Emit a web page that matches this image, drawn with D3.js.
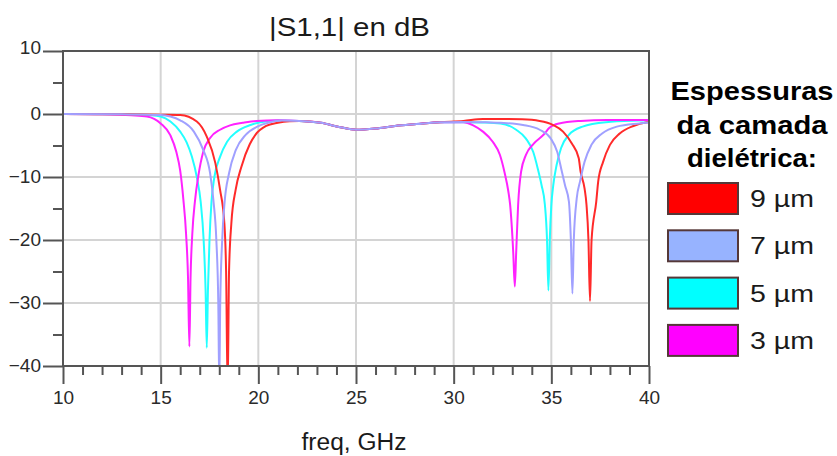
<!DOCTYPE html>
<html><head><meta charset="utf-8">
<script src="https://cdn.jsdelivr.net/npm/d3@7"></script>
<style>body{margin:0;background:#fff}svg{display:block}text{font-family:"Liberation Sans",Arial,sans-serif}</style>
</head><body><svg id="c" width="837" height="456"></svg>
<script>
// ---- data ----
const chartTitle = "|S1,1| en dB";
const xLabel = "freq, GHz";
const legendTitle = ["Espessuras", "da camada", "dielétrica:"];
const seriesNames = ["9 µm", "7 µm", "5 µm", "3 µm"];
const lineColors = ["#ff2a2a", "#a0a0ff", "#22ffff", "#ff22ff"];
const swatchColors = ["#ff0000", "#97b3ff", "#00ffff", "#ff00ff"];
const xTicks = [10, 15, 20, 25, 30, 35, 40];
const yTicks = [10, 0, -10, -20, -30, -40];

// 9 µm
const freq9 = [10, 13, 15, 16, 16.85, 17.36, 17.8, 18.04, 18.26, 18.35, 18.43, 18.5, 18.62, 18.84, 19.13, 19.56, 19.85, 20.4, 21, 21.6, 22.1, 23.2, 24.2, 25, 26, 27, 28.1, 29.3, 30.5, 31.5, 32.5, 33.5, 34.4, 35.1, 35.6, 36.05, 36.4, 36.5, 36.7, 36.8, 36.9, 36.98, 37.06, 37.3, 37.4, 37.65, 38, 38.5, 39.2, 39.9, 40];
const db9 = [0, -0.05, -0.1, -0.15, -1.2, -3.6, -7.8, -12, -17.3, -25, -44, -25, -17.3, -12, -8.4, -4.8, -3.3, -1.9, -1.4, -1.15, -1.1, -1.4, -2.1, -2.5, -2.3, -1.9, -1.6, -1.3, -1.1, -0.8, -0.8, -0.85, -1.1, -1.75, -2.8, -4.7, -7, -9.2, -11.8, -14.4, -20, -29.7, -20, -13.9, -10.7, -7.6, -4.9, -3.1, -1.9, -1.3, -1.25];
// 7 µm
const freq7 = [10, 13, 15, 15.5, 16, 16.7, 17.18, 17.53, 17.7, 17.85, 17.95, 18, 18.05, 18.15, 18.27, 18.5, 18.85, 19.35, 19.95, 20.5, 21.2, 22.1, 23.2, 24.2, 25, 26, 27, 28.1, 29.3, 30.5, 31.5, 32.4, 33.55, 34.4, 34.97, 35.3, 35.5, 35.7, 35.9, 36, 36.08, 36.15, 36.3, 36.47, 36.7, 37.05, 37.6, 38.35, 39.5, 40];
const db7 = [0, -0.05, -0.15, -0.4, -1, -2.8, -5.7, -9.4, -13.7, -20, -30, -43, -30, -20, -14.1, -9.4, -5.7, -3.3, -2, -1.4, -1.05, -1.1, -1.4, -2.1, -2.5, -2.3, -1.9, -1.6, -1.3, -1.25, -1.3, -1.4, -1.75, -2.5, -3.9, -6, -8.6, -11.3, -13.9, -20, -28.5, -20, -13.4, -10.7, -7.6, -4.9, -3.1, -2, -1.5, -1.35];
// 5 µm
const freq5 = [10, 13, 14.5, 15, 15.5, 16, 16.33, 16.6, 16.85, 17.05, 17.2, 17.3, 17.36, 17.42, 17.5, 17.6, 17.75, 18.04, 18.4, 18.9, 19.6, 20.1, 21, 22.1, 23.2, 24.2, 25, 26, 27, 28.1, 29.3, 30.5, 31.5, 32.4, 33.2, 33.7, 34.07, 34.3, 34.5, 34.67, 34.78, 34.85, 34.92, 35, 35.1, 35.27, 35.5, 35.9, 36.6, 37.8, 39.5, 40];
const db5 = [0, -0.05, -0.2, -0.4, -1.2, -2.8, -4.5, -6.8, -10, -14, -20, -28, -37.1, -28, -20, -14, -10, -6.8, -4.4, -2.8, -1.75, -1.3, -1.05, -1.1, -1.4, -2.1, -2.5, -2.3, -1.9, -1.6, -1.3, -1.3, -1.35, -1.5, -2.5, -3.9, -6, -8.6, -11.3, -14.4, -20, -28, -20, -14.5, -11.3, -8.1, -5.4, -3.3, -2, -1.3, -1.05, -1];
// 3 µm
const freq3 = [10, 12, 13.5, 14.3, 15, 15.5, 15.8, 16, 16.16, 16.3, 16.4, 16.47, 16.53, 16.62, 16.76, 16.93, 17.18, 17.53, 18.04, 18.55, 19.2, 19.9, 21, 22.1, 23.2, 24.2, 25, 26, 27, 28.1, 29.3, 30.5, 31, 31.5, 32, 32.37, 32.6, 32.8, 32.89, 33.05, 33.13, 33.2, 33.3, 33.45, 33.7, 34.1, 34.6, 34.9, 35.4, 36.5, 37.85, 40];
const db3 = [0, -0.05, -0.2, -0.4, -1.5, -3.4, -6, -9, -13.5, -19, -26, -36.9, -26, -19, -13.7, -9.8, -6, -3.8, -2.5, -1.8, -1.4, -1.1, -1, -1.1, -1.4, -2.1, -2.5, -2.3, -1.9, -1.6, -1.3, -1.3, -1.8, -2.8, -4.4, -6.5, -9.2, -12.3, -14.4, -22, -27.4, -22, -14.4, -9.2, -6.5, -4.7, -3.3, -2.2, -1.5, -1.1, -0.95, -0.95];

const seriesFreq = [freq9, freq7, freq5, freq3];
const seriesDb = [db9, db7, db5, db3];

// ---- layout ----
const svg = d3.select("#c");
const L = 63, R = 649, T = 51, B = 366;
const x = d3.scaleLinear().domain([10, 40]).range([L, R]);
const y = d3.scaleLinear().domain([10, -40]).range([T, B]);
const axisCol = "#555";

svg.append("defs").append("clipPath").attr("id", "clip")
  .append("rect").attr("x", L).attr("y", T).attr("width", R - L).attr("height", B - T);

// grid
const grid = svg.append("g").attr("stroke", "#d4d4d4").attr("stroke-width", 2);
grid.selectAll("line.gx").data(xTicks.filter(d => d > 10 && d < 40)).join("line")
  .attr("x1", d => x(d)).attr("x2", d => x(d)).attr("y1", T).attr("y2", B);
grid.selectAll("line.gy").data(yTicks.filter(d => d < 10 && d > -40)).join("line")
  .attr("x1", L).attr("x2", R).attr("y1", d => y(d)).attr("y2", d => y(d));

// curves
const line = d3.line().x(d => x(d[0])).y(d => y(d[1])).curve(d3.curveMonotoneX);
const order = [2, 3, 0, 1];
const gLines = svg.append("g").attr("clip-path", "url(#clip)");
order.forEach(i => {
  const pts = seriesFreq[i].map((f, k) => [f, seriesDb[i][k]]);
  gLines.append("path").datum(pts).attr("d", line)
    .attr("fill", "none").attr("stroke", lineColors[i]).attr("stroke-width", 2)
    .attr("stroke-linejoin", "round");
});

// frame
svg.append("rect").attr("x", L).attr("y", T).attr("width", R - L).attr("height", B - T)
  .attr("fill", "none").attr("stroke", axisCol).attr("stroke-width", 2);

// x axis
const minorX = d3.range(11, 40).filter(d => d % 5 !== 0);
const gx = svg.append("g").attr("transform", `translate(0,${B})`)
  .call(d3.axisBottom(x).tickValues(xTicks).tickSize(18).tickFormat(d3.format("d")));
svg.append("g").attr("transform", `translate(0,${B})`)
  .call(d3.axisBottom(x).tickValues(minorX).tickSize(9).tickFormat(""))
  .call(g => g.select(".domain").remove())
  .selectAll("line").attr("stroke", axisCol).attr("stroke-width", 2);
gx.select(".domain").remove();
gx.selectAll("line").attr("stroke", axisCol).attr("stroke-width", 2);
gx.selectAll("text").attr("y", 38).attr("dy", null)
  .attr("font-size", 19).attr("fill", "#2a2a2a")
  .style("font-family", '"Liberation Sans",Arial,sans-serif');

// y axis
const minorY = [5, -5, -15, -25, -35];
const gy = svg.append("g").attr("transform", `translate(${L},0)`)
  .call(d3.axisLeft(y).tickValues(yTicks).tickSize(20).tickPadding(2).tickFormat(d3.format("d")));
svg.append("g").attr("transform", `translate(${L},0)`)
  .call(d3.axisLeft(y).tickValues(minorY).tickSize(10).tickFormat(""))
  .call(g => g.select(".domain").remove())
  .selectAll("line").attr("stroke", axisCol).attr("stroke-width", 2);
gy.select(".domain").remove();
gy.selectAll("line").attr("stroke", axisCol).attr("stroke-width", 2);
gy.selectAll("text").attr("dy", null).attr("y", d => d === 10 ? 2 : 5)
  .attr("font-size", 19).attr("fill", "#2a2a2a")
  .style("font-family", '"Liberation Sans",Arial,sans-serif');

// title and x label
svg.append("text").attr("x", 349.5).attr("y", 36).attr("text-anchor", "middle")
  .attr("font-size", 25).attr("fill", "#1a1a1a")
  .attr("textLength", 161).attr("lengthAdjust", "spacingAndGlyphs").text(chartTitle);
svg.append("text").attr("x", 354).attr("y", 450).attr("text-anchor", "middle")
  .attr("font-size", 23).attr("fill", "#1a1a1a")
  .attr("textLength", 105).attr("lengthAdjust", "spacingAndGlyphs").text(xLabel);

// legend
const legTitleW = [163, 151, 130];
svg.append("g").selectAll("text").data(legendTitle).join("text")
  .attr("x", 752).attr("y", (d, i) => 100 + i * 33.5).attr("text-anchor", "middle")
  .attr("font-size", 25).attr("font-weight", "bold").attr("fill", "#000")
  .attr("textLength", (d, i) => legTitleW[i]).attr("lengthAdjust", "spacingAndGlyphs")
  .text(d => d);
const leg = svg.append("g").selectAll("g").data(seriesNames).join("g")
  .attr("transform", (d, i) => `translate(668,${183 + i * 47.3})`);
leg.append("rect").attr("width", 70).attr("height", 31)
  .attr("fill", (d, i) => swatchColors[i]).attr("stroke", "#553838").attr("stroke-width", 2);
leg.append("text").attr("x", 82).attr("y", 24).attr("font-size", 23).attr("fill", "#1a1a1a")
  .attr("textLength", 64).attr("lengthAdjust", "spacingAndGlyphs").text(d => d);
</script></body></html>
